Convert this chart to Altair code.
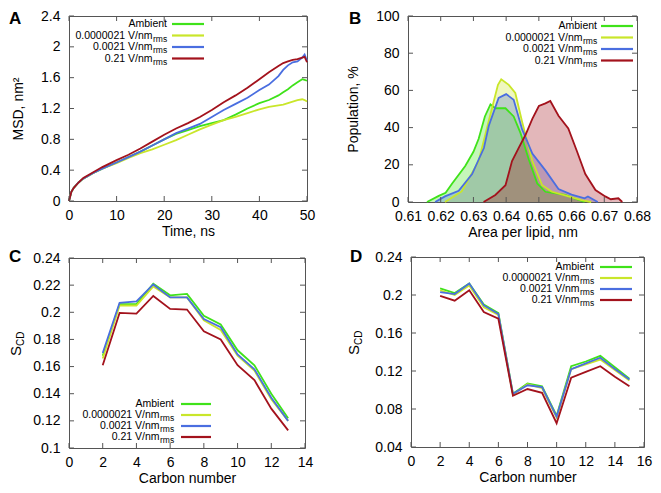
import altair as alt
import pandas as pd

SERIES = ["Ambient", "0.0000021 V/nm", "0.0021 V/nm", "0.21 V/nm"]
SUBS = ["", "rms", "rms", "rms"]
COLORS = ["#3fe21a", "#c9e62a", "#4a6ee0", "#a3121c"]
FILLS = ["#30d000", "#d0d800", "#3060d0", "#d83068"]

# Panel A: MSD vs time
A_T = [0, 0.5, 1, 2, 3, 5, 7, 10, 12.5, 15, 17.5, 20, 22.5, 25, 27.5, 30, 32.5, 35,
       37.5, 40, 42, 44, 45, 46, 47, 48, 49, 49.5, 50]
A_AMB = [0, 0.12, 0.17, 0.24, 0.29, 0.36, 0.42, 0.50, 0.57, 0.64, 0.72, 0.80, 0.87, 0.92,
         0.97, 1.01, 1.05, 1.12, 1.20, 1.27, 1.31, 1.37, 1.41, 1.45, 1.50, 1.54, 1.58, 1.57, 1.56]
A_E1 = [0, 0.12, 0.17, 0.24, 0.29, 0.36, 0.42, 0.49, 0.56, 0.62, 0.67, 0.73, 0.79, 0.86,
        0.93, 0.99, 1.05, 1.09, 1.14, 1.19, 1.22, 1.24, 1.25, 1.27, 1.29, 1.31, 1.32, 1.31, 1.29]
A_E2 = [0, 0.12, 0.17, 0.24, 0.29, 0.36, 0.42, 0.50, 0.57, 0.64, 0.72, 0.80, 0.88, 0.94,
        1.00, 1.09, 1.18, 1.26, 1.34, 1.44, 1.51, 1.62, 1.70, 1.76, 1.80, 1.81, 1.86, 1.90, 1.82]
A_E3 = [0, 0.12, 0.17, 0.24, 0.30, 0.37, 0.44, 0.53, 0.60, 0.68, 0.77, 0.86, 0.94, 1.01,
        1.09, 1.18, 1.28, 1.37, 1.47, 1.58, 1.67, 1.75, 1.79, 1.81, 1.83, 1.84, 1.86, 1.87, 1.80]

# Panel B: area per lipid distributions
B_AMB_X = [0.6158, 0.6194, 0.6215, 0.6235, 0.6275, 0.6300, 0.6316, 0.6335, 0.6352, 0.6367,
           0.6398, 0.6423, 0.6444, 0.6469, 0.6495, 0.6520, 0.6580, 0.6620, 0.6640]
B_AMB_Y = [0, 3.3, 5, 9.9, 19.4, 27, 34, 46, 52.5, 50.4, 50.4, 46, 37, 23, 10, 5.5, 3.8, 1.2, 0]
B_E1_X = [0.6213, 0.6264, 0.6289, 0.6316, 0.6346, 0.6375, 0.6385, 0.6408, 0.6428, 0.6449,
          0.6480, 0.6510, 0.6540, 0.6580, 0.6630, 0.6660]
B_E1_Y = [0, 5.7, 13.5, 22, 43, 63, 66, 63, 58.6, 43, 22, 9, 5.5, 3.5, 1, 0]
B_E2_X = [0.6183, 0.6213, 0.6255, 0.6296, 0.6332, 0.6347, 0.6377, 0.6400, 0.6423, 0.6449,
          0.6480, 0.6520, 0.6560, 0.6600, 0.6640, 0.6650, 0.6680]
B_E2_Y = [0, 3, 6, 15, 29, 41, 56, 58, 55, 39, 26, 17, 7, 4, 2, 3, 0]
B_E3_X = [0.6331, 0.6367, 0.6398, 0.6418, 0.6438, 0.6459, 0.6480, 0.6500, 0.6520, 0.6535,
          0.6560, 0.6590, 0.6617, 0.6642, 0.6673, 0.6703, 0.6720, 0.6743, 0.6755]
B_E3_Y = [0, 3.8, 9, 22, 29, 36, 44.7, 51.6, 53, 54.3, 46.4, 39.5, 27, 15, 6.4, 3, 1.5, 2, 0]

# Panel C: order parameter, chain 1
C_X = [2, 3, 4, 5, 6, 7, 8, 9, 10, 11, 12, 13]
C_AMB = [0.168, 0.206, 0.206, 0.221, 0.2125, 0.2135, 0.1975, 0.191, 0.172, 0.161, 0.140, 0.122]
C_E1 = [0.166, 0.205, 0.205, 0.219, 0.211, 0.211, 0.194, 0.187, 0.168, 0.157, 0.136, 0.120]
C_E2 = [0.170, 0.207, 0.208, 0.2205, 0.211, 0.211, 0.195, 0.189, 0.169, 0.158, 0.137, 0.120]
C_E3 = [0.161, 0.1995, 0.199, 0.212, 0.2025, 0.202, 0.186, 0.180, 0.161, 0.150, 0.129, 0.113]

# Panel D: order parameter, chain 2
D_X = [2, 3, 4, 5, 6, 7, 8, 9, 10, 11, 12, 13, 14, 15]
D_AMB = [0.207, 0.202, 0.212, 0.190, 0.181, 0.096, 0.107, 0.104, 0.073, 0.125, 0.130, 0.136, 0.124, 0.112]
D_E1 = [0.205, 0.200, 0.210, 0.187, 0.179, 0.095, 0.106, 0.102, 0.071, 0.122, 0.127, 0.132, 0.121, 0.110]
D_E2 = [0.203, 0.201, 0.212, 0.189, 0.180, 0.096, 0.105, 0.103, 0.072, 0.122, 0.128, 0.134, 0.122, 0.111]
D_E3 = [0.199, 0.194, 0.205, 0.182, 0.175, 0.094, 0.101, 0.097, 0.065, 0.113, 0.119, 0.125, 0.114, 0.104]

A_XTICKS = [0, 10, 20, 30, 40, 50]
A_YTICKS = [0, 0.4, 0.8, 1.2, 1.6, 2, 2.4]
B_XTICKS = [0.61, 0.62, 0.63, 0.64, 0.65, 0.66, 0.67, 0.68]
B_YTICKS = [0, 20, 40, 60, 80, 100]
C_XTICKS = [0, 2, 4, 6, 8, 10, 12, 14]
C_YTICKS = [0.1, 0.12, 0.14, 0.16, 0.18, 0.2, 0.22, 0.24]
D_XTICKS = [0, 2, 4, 6, 8, 10, 12, 14, 16]
D_YTICKS = [0.04, 0.08, 0.12, 0.16, 0.2, 0.24]

FONT = "Liberation Sans"
FRAME = "#555555"
TICK_LEN = 5


def long_df(xs_list, ys_list):
    rows = []
    for s, xs, ys in zip(SERIES, xs_list, ys_list):
        for x, y in zip(xs, ys):
            rows.append({"x": x, "y": y, "series": s})
    return pd.DataFrame(rows)


color_scale = alt.Scale(domain=SERIES, range=COLORS)
fill_scale = alt.Scale(domain=SERIES, range=FILLS)
one = pd.DataFrame({"k": [0]})


def panel(df, xdom, ydom, xticks, yticks, W, H, xtitle, ytitle, fmtx, fmty,
          letter, letter_xy, legend, area=False, scd=None, ytp=13):
    xs = alt.Scale(domain=xdom, nice=False, zero=False)
    ys = alt.Scale(domain=ydom, nice=False, zero=False)
    xaxis = alt.Axis(values=xticks, format=fmtx, title=xtitle, tickSize=0, domain=False,
                     grid=False, labelPadding=7, titlePadding=2, labelOverlap=False,
                     labelFlush=False)
    yaxis = alt.Axis(values=yticks, format=fmty, title=ytitle, tickSize=0, domain=False,
                     grid=False, labelPadding=9, titlePadding=ytp, labelOverlap=False,
                     labelFlush=False)
    X = alt.X("x:Q", scale=xs, axis=xaxis)
    Y = alt.Y("y:Q", scale=ys, axis=yaxis)
    layers = []
    if area:
        layers.append(
            alt.Chart(df).mark_area(opacity=0.3).encode(
                X, alt.Y("y:Q", scale=ys, axis=yaxis, stack=None),
                color=alt.Color("series:N", scale=fill_scale, legend=None)))
    layers.append(
        alt.Chart(df).mark_line(strokeWidth=1.8).encode(
            X, Y, color=alt.Color("series:N", scale=color_scale, legend=None)))
    # inward ticks on all four sides
    xt = pd.DataFrame({"x": xticks})
    yt = pd.DataFrame({"y": yticks})
    layers.append(alt.Chart(xt).mark_rule(color=FRAME).encode(
        X, y=alt.value(H), y2=alt.value(H - TICK_LEN)))
    layers.append(alt.Chart(xt).mark_rule(color=FRAME).encode(
        X, y=alt.value(0), y2=alt.value(TICK_LEN)))
    layers.append(alt.Chart(yt).mark_rule(color=FRAME).encode(
        Y, x=alt.value(0), x2=alt.value(TICK_LEN)))
    layers.append(alt.Chart(yt).mark_rule(color=FRAME).encode(
        Y, x=alt.value(W), x2=alt.value(W - TICK_LEN)))
    # legend
    tx, lx1, lx2, rows_y = legend
    for s, sub, c, ry in zip(SERIES, SUBS, COLORS, rows_y):
        if sub:
            layers.append(alt.Chart(one).mark_text(
                text=s, align="right", baseline="middle", font=FONT, fontSize=10.5,
                color="black").encode(x=alt.value(tx - 14.5), y=alt.value(ry)))
            layers.append(alt.Chart(one).mark_text(
                text=sub, align="left", baseline="middle", font=FONT, fontSize=8.5,
                color="black").encode(x=alt.value(tx - 14), y=alt.value(ry + 3)))
        else:
            layers.append(alt.Chart(one).mark_text(
                text=s, align="right", baseline="middle", font=FONT, fontSize=10.5,
                color="black").encode(x=alt.value(tx), y=alt.value(ry)))
        layers.append(alt.Chart(one).mark_rule(color=c, strokeWidth=2.2).encode(
            x=alt.value(lx1), x2=alt.value(lx2), y=alt.value(ry)))
    # panel letter
    layers.append(alt.Chart(one).mark_text(
        text=letter, align="left", baseline="alphabetic", font=FONT, fontSize=17,
        fontWeight="bold", color="black").encode(
        x=alt.value(letter_xy[0]), y=alt.value(letter_xy[1])))
    # S_CD title
    if scd is not None:
        sx, sy = scd
        layers.append(alt.Chart(one).mark_text(
            text="S", align="left", baseline="alphabetic", angle=270, font=FONT,
            fontSize=15, color="black").encode(x=alt.value(sx), y=alt.value(sy)))
        layers.append(alt.Chart(one).mark_text(
            text="CD", align="left", baseline="alphabetic", angle=270, font=FONT,
            fontSize=10, color="black").encode(x=alt.value(sx + 3), y=alt.value(sy - 10)))
    return alt.layer(*layers).properties(width=W, height=H)


pa = panel(long_df([A_T] * 4, [A_AMB, A_E1, A_E2, A_E3]), [0, 50], [0, 2.4],
           A_XTICKS, A_YTICKS, 238, 185, "Time, ns", "MSD, nm²", "~r", "~r",
           "A", (-60, 8), (98, 103, 135, [8, 19.5, 31, 42.5]), ytp=15)
pb = panel(long_df([B_AMB_X, B_E1_X, B_E2_X, B_E3_X], [B_AMB_Y, B_E1_Y, B_E2_Y, B_E3_Y]),
           [0.61, 0.68], [0, 100], B_XTICKS, B_YTICKS, 229, 186,
           "Area per lipid, nm", "Population, %", ".2f", "~r",
           "B", (-59, 8), (189, 193, 225, [10, 21.5, 33, 44.5]), area=True, ytp=15)
pc = panel(long_df([C_X] * 4, [C_AMB, C_E1, C_E2, C_E3]), [0, 14], [0.1, 0.24],
           C_XTICKS, C_YTICKS, 236, 190, "Carbon number", None, "~r", "~r",
           "C", (-60, 4), (105, 112, 142, [146, 157, 168, 179]), scd=(-48, 98))
pd_ = panel(long_df([D_X] * 4, [D_AMB, D_E1, D_E2, D_E3]), [0, 16], [0.04, 0.24],
            D_XTICKS, D_YTICKS, 233, 190, "Carbon number", None, "~r", "~r",
            "D", (-61, 5), (183, 189, 221, [10, 21, 32, 43]), scd=(-52, 98))

chart = alt.concat(
    pa, pb, pc, pd_, columns=2, align="none",
    spacing={"row": 7, "column": 30},
).properties(
    padding={"left": 0, "top": 0, "right": 0, "bottom": 0}
).configure_view(
    stroke=FRAME, strokeWidth=1
).configure_axis(
    labelFont=FONT, labelFontSize=14, labelColor="black",
    titleFont=FONT, titleFontSize=14, titleFontWeight="normal", titleColor="black"
)

chart.save("out.html", embed_options={"renderer": "svg", "actions": False})
